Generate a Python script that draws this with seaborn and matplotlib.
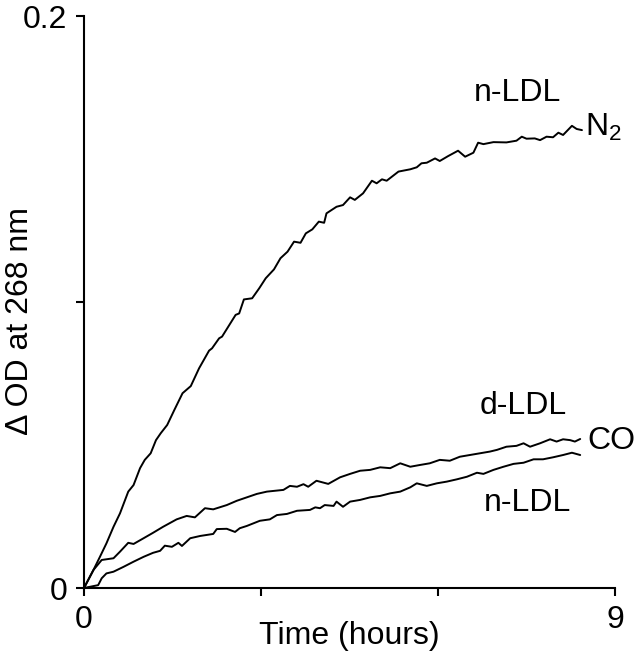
import matplotlib
matplotlib.use("Agg")
import matplotlib.pyplot as plt
import seaborn as sns
import pandas as pd

# ---- data ----
n2_time = [0.0, 0.16, 0.27, 0.38, 0.50, 0.61, 0.75, 0.84, 0.95, 1.03, 1.13, 1.22, 1.30, 1.41,
           1.53, 1.67, 1.81, 1.95, 2.12, 2.17, 2.29, 2.34, 2.57, 2.63, 2.71, 2.85, 2.97, 3.08,
           3.22, 3.33, 3.45, 3.56, 3.67, 3.76, 3.87, 3.98, 4.07, 4.11, 4.28, 4.39, 4.51, 4.59,
           4.73, 4.88, 4.96, 5.05, 5.13, 5.33, 5.53, 5.64, 5.72, 5.81, 5.95, 6.03, 6.17, 6.34,
           6.46, 6.60, 6.68, 6.77, 6.94, 7.16, 7.33, 7.42, 7.50, 7.64, 7.73, 7.84, 7.95, 8.04,
           8.12, 8.27, 8.35, 8.44]
n2_od = [0.0, 0.0063, 0.0109, 0.0156, 0.0214, 0.0261, 0.0337, 0.0360, 0.0419, 0.0448, 0.0471,
         0.0517, 0.0541, 0.0570, 0.0622, 0.0681, 0.0706, 0.0768, 0.0830, 0.0838, 0.0873, 0.0879,
         0.0955, 0.0960, 0.1009, 0.1013, 0.1048, 0.1083, 0.1114, 0.1153, 0.1176, 0.1211, 0.1207,
         0.1240, 0.1254, 0.1281, 0.1277, 0.1310, 0.1333, 0.1339, 0.1366, 0.1357, 0.1380, 0.1424,
         0.1415, 0.1429, 0.1424, 0.1456, 0.1464, 0.1471, 0.1485, 0.1487, 0.1502, 0.1493, 0.1510,
         0.1529, 0.1508, 0.1522, 0.1557, 0.1552, 0.1559, 0.1558, 0.1564, 0.1578, 0.1571, 0.1572,
         0.1566, 0.1578, 0.1576, 0.1592, 0.1584, 0.1616, 0.1605, 0.1601]

dldl_time = [0.0, 0.16, 0.30, 0.50, 0.61, 0.75, 0.84, 1.01, 1.17, 1.34, 1.57, 1.74, 1.88, 2.05,
             2.19, 2.42, 2.59, 2.76, 2.93, 3.10, 3.38, 3.49, 3.61, 3.72, 3.80, 3.94, 4.14, 4.34,
             4.51, 4.68, 4.85, 5.02, 5.19, 5.36, 5.53, 5.69, 5.86, 6.03, 6.20, 6.37, 6.54, 6.71,
             6.88, 7.00, 7.16, 7.33, 7.45, 7.56, 7.73, 7.90, 8.01, 8.12, 8.24, 8.32, 8.41]
dldl_od = [0.0, 0.0063, 0.0098, 0.0104, 0.0127, 0.0158, 0.0154, 0.0174, 0.0193, 0.0214, 0.0240,
           0.0252, 0.0247, 0.0279, 0.0275, 0.0290, 0.0305, 0.0317, 0.0329, 0.0337, 0.0343, 0.0357,
           0.0354, 0.0363, 0.0354, 0.0375, 0.0364, 0.0387, 0.0399, 0.0410, 0.0413, 0.0422, 0.0419,
           0.0436, 0.0424, 0.0430, 0.0436, 0.0448, 0.0445, 0.0459, 0.0465, 0.0471, 0.0477, 0.0483,
           0.0494, 0.0497, 0.0506, 0.0494, 0.0506, 0.0520, 0.0512, 0.0520, 0.0517, 0.0512, 0.0521]

nldl_time = [0.0, 0.24, 0.30, 0.38, 0.50, 0.67, 0.84, 1.01, 1.17, 1.29, 1.37, 1.49, 1.60, 1.66,
             1.80, 1.97, 2.19, 2.25, 2.42, 2.56, 2.64, 2.76, 2.87, 2.98, 3.15, 3.27, 3.44, 3.61,
             3.83, 3.92, 4.00, 4.08, 4.23, 4.28, 4.39, 4.51, 4.68, 4.85, 5.02, 5.19, 5.36, 5.53,
             5.64, 5.81, 5.98, 6.15, 6.32, 6.49, 6.66, 6.77, 6.94, 7.11, 7.28, 7.45, 7.62, 7.78,
             7.95, 8.12, 8.27, 8.41]
nldl_od = [0.0, 0.0010, 0.0034, 0.0051, 0.0057, 0.0074, 0.0092, 0.0109, 0.0123, 0.0130, 0.0148,
           0.0144, 0.0158, 0.0147, 0.0174, 0.0182, 0.0189, 0.0206, 0.0207, 0.0196, 0.0209, 0.0217,
           0.0226, 0.0235, 0.0240, 0.0255, 0.0259, 0.0270, 0.0273, 0.0282, 0.0279, 0.0290, 0.0287,
           0.0302, 0.0284, 0.0302, 0.0308, 0.0317, 0.0322, 0.0331, 0.0337, 0.0352, 0.0366, 0.0357,
           0.0366, 0.0372, 0.0380, 0.0389, 0.0403, 0.0399, 0.0413, 0.0424, 0.0434, 0.0438, 0.0450,
           0.0450, 0.0457, 0.0465, 0.0473, 0.0465]

x_ticks = [0, 3, 6, 9]
x_tick_labels = ["0", "", "", "9"]
y_ticks = [0, 0.1, 0.2]
y_tick_labels = ["0", "", "0.2"]

df = pd.concat([
    pd.DataFrame({"t": n2_time, "od": n2_od, "series": "n-LDL N2"}),
    pd.DataFrame({"t": dldl_time, "od": dldl_od, "series": "d-LDL CO"}),
    pd.DataFrame({"t": nldl_time, "od": nldl_od, "series": "n-LDL CO"}),
], ignore_index=True)

# ---- style ----
sns.set_style("ticks")
plt.rcParams["font.family"] = ["Liberation Sans", "DejaVu Sans"]
plt.rcParams["mathtext.default"] = "regular"
plt.rcParams["text.color"] = "black"
plt.rcParams["axes.labelcolor"] = "black"
plt.rcParams["xtick.color"] = "black"
plt.rcParams["ytick.color"] = "black"
FS = 23

fig = plt.figure(figsize=(6.41, 6.57), dpi=100)
ax = fig.add_axes([84 / 641, 69 / 657, 531 / 641, 572 / 657])

sns.lineplot(data=df, x="t", y="od", units="series", estimator=None,
             color="black", linewidth=1.4, ax=ax, legend=False)

ax.set_xlim(0, 9)
ax.set_ylim(0, 0.2)
ax.set_xticks(x_ticks)
ax.set_xticklabels(x_tick_labels)
ax.set_yticks(y_ticks)
ax.set_yticklabels(y_tick_labels)
sns.despine(ax=ax)
for s in ("left", "bottom"):
    ax.spines[s].set_linewidth(1.5)
    ax.spines[s].set_color("black")
ax.tick_params(direction="out", length=6, width=1.5, colors="black",
               labelcolor="black", labelsize=FS, pad=6)

ax.set_xlabel("Time (hours)", fontsize=FS, color="black")
ax.xaxis.set_label_coords(0.5, -0.058)
ax.xaxis.label.set_va("top")
ax.set_ylabel("Δ OD at 268 nm", fontsize=FS, color="black")
ax.yaxis.label.set_va("center")
ax.yaxis.set_label_coords(-0.12, 0.467)

# curve annotations
ax.text(7.34, 0.1731, "n-LDL", fontsize=FS, ha="center", va="center", color="black")
ax.text(8.49, 0.1612, "N$_2$", fontsize=FS, ha="left", va="center", color="black")
ax.text(7.44, 0.0636, "d-LDL", fontsize=FS, ha="center", va="center", color="black")
ax.text(8.54, 0.0514, "CO", fontsize=FS, ha="left", va="center", color="black")
ax.text(7.51, 0.0297, "n-LDL", fontsize=FS, ha="center", va="center", color="black")

fig.savefig("out.png", dpi=100)
